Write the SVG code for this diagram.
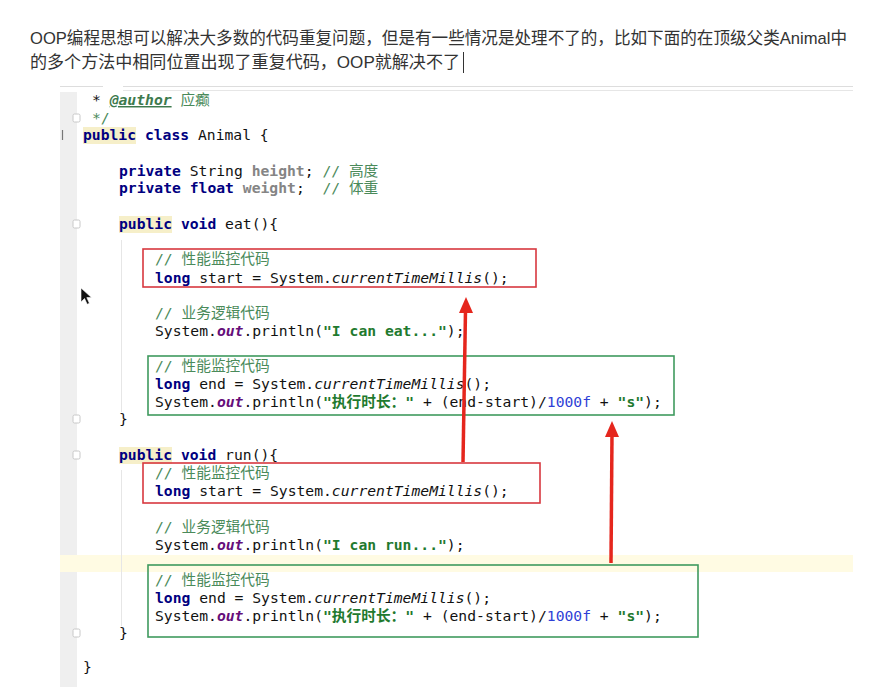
<svg xmlns="http://www.w3.org/2000/svg" width="885" height="687" viewBox="0 0 885 687">
<style>
.intro{font-family:"Liberation Sans","Noto Sans CJK SC",sans-serif;font-size:17px;fill:#333}
.code{font-family:"DejaVu Sans Mono","Noto Sans CJK SC",monospace;font-size:14.7px;fill:#111;white-space:pre}
.kw{fill:#000080;font-weight:bold}
.fld{fill:#858585;font-weight:bold}
.cm{fill:#4a8a5a}
.str{fill:#1f7a2f;font-weight:bold}
.num{fill:#2f3fd6}
.out{fill:#660e7a;font-weight:bold;font-style:italic}
.it{font-style:italic}
.tag{fill:#3d7a4d;font-weight:bold;font-style:italic;text-decoration:underline}
.hl{fill:#f6efc9}
.redbox{fill:none;stroke:#d8383f;stroke-width:1.6}
.greenbox{fill:none;stroke:#3f9a5e;stroke-width:1.6}
.arrow{stroke:#e5261d;stroke-width:3.5;fill:none}
.head{fill:#e5261d}
.fold{fill:#fff;stroke:#c8c8c8;stroke-width:1}
</style>
<rect width="885" height="687" fill="#fff"/>
<g id="intro">
<text class="intro" x="30" y="44" textLength="817" lengthAdjust="spacingAndGlyphs">OOP编程思想可以解决大多数的代码重复问题，但是有一些情况是处理不了的，比如下面的在顶级父类Animal中</text>
<text class="intro" x="30" y="68" textLength="430" lengthAdjust="spacingAndGlyphs">的多个方法中相同位置出现了重复代码，OOP就解决不了</text>
<line x1="463.5" y1="52" x2="463.5" y2="73" stroke="#333" stroke-width="1"/>
</g>
<g id="editor">
<line x1="60" y1="86.5" x2="103" y2="86.5" stroke="#ddd" stroke-width="1"/>
<line x1="123" y1="86.5" x2="853" y2="86.5" stroke="#ddd" stroke-width="1"/>
<line x1="123" y1="90.5" x2="853" y2="90.5" stroke="#e6e6e6" stroke-width="1"/>
<rect x="60" y="92" width="17" height="595" fill="#efefef"/>
<rect x="60" y="555" width="793" height="17" fill="#fffbe3"/>
<line x1="121.5" y1="240" x2="121.5" y2="412" stroke="#e6e6e6" stroke-width="1"/>
<line x1="121.5" y1="470" x2="121.5" y2="626" stroke="#e6e6e6" stroke-width="1"/>
<line x1="62.5" y1="130" x2="62.5" y2="140" stroke="#777" stroke-width="1.2"/>
<rect class="fold" x="73" y="114" width="7" height="8" rx="1.5"/>
<rect class="fold" x="73" y="220" width="7" height="8" rx="1.5"/>
<rect class="fold" x="73" y="415" width="7" height="8" rx="1.5"/>
<rect class="fold" x="73" y="451" width="7" height="8" rx="1.5"/>
<rect class="fold" x="73" y="629" width="7" height="8" rx="1.5"/>
<rect class="hl" x="83" y="127" width="53" height="17"/>
<rect class="hl" x="119" y="216" width="53" height="17"/>
<rect class="hl" x="119" y="447" width="53" height="17"/>
</g>
<g id="code" class="code">
<text x="92" y="105">* <tspan class="tag">@author</tspan><tspan class="cm"> 应癫</tspan></text>
<text x="92" y="123" class="cm">*/</text>
<text x="83" y="140"><tspan class="kw">public class</tspan> Animal {</text>
<text x="119" y="176"><tspan class="kw">private</tspan> String <tspan class="fld">height</tspan>; <tspan class="cm">// 高度</tspan></text>
<text x="119" y="193"><tspan class="kw">private float</tspan> <tspan class="fld">weight</tspan>;&#160;&#160;<tspan class="cm">// 体重</tspan></text>
<text x="119" y="229"><tspan class="kw">public void</tspan> eat(){</text>
<text x="155" y="264" class="cm">// 性能监控代码</text>
<text x="155" y="283"><tspan class="kw">long</tspan> start = System.<tspan class="it">currentTimeMillis</tspan>();</text>
<text x="155" y="318" class="cm">// 业务逻辑代码</text>
<text x="155" y="336">System.<tspan class="out">out</tspan>.println(<tspan class="str">"I can eat..."</tspan>);</text>
<text x="155" y="371" class="cm">// 性能监控代码</text>
<text x="155" y="389"><tspan class="kw">long</tspan> end = System.<tspan class="it">currentTimeMillis</tspan>();</text>
<text x="155" y="407">System.<tspan class="out">out</tspan>.println(<tspan class="str">"执行时长："</tspan> + (end-start)/<tspan class="num">1000f</tspan> + <tspan class="str">"s"</tspan>);</text>
<text x="119" y="424">}</text>
<text x="119" y="460"><tspan class="kw">public void</tspan> run(){</text>
<text x="155" y="478" class="cm">// 性能监控代码</text>
<text x="155" y="496"><tspan class="kw">long</tspan> start = System.<tspan class="it">currentTimeMillis</tspan>();</text>
<text x="155" y="532" class="cm">// 业务逻辑代码</text>
<text x="155" y="550">System.<tspan class="out">out</tspan>.println(<tspan class="str">"I can run..."</tspan>);</text>
<text x="155" y="585" class="cm">// 性能监控代码</text>
<text x="155" y="603"><tspan class="kw">long</tspan> end = System.<tspan class="it">currentTimeMillis</tspan>();</text>
<text x="155" y="621">System.<tspan class="out">out</tspan>.println(<tspan class="str">"执行时长："</tspan> + (end-start)/<tspan class="num">1000f</tspan> + <tspan class="str">"s"</tspan>);</text>
<text x="119" y="638">}</text>
<text x="83" y="672">}</text>
</g>
<g id="box-eat-start"><rect class="redbox" x="143" y="249" width="393" height="38"/></g>
<g id="box-eat-end"><rect class="greenbox" x="148" y="356" width="526" height="59"/></g>
<g id="box-run-start"><rect class="redbox" x="143" y="463" width="397" height="40"/></g>
<g id="box-run-end"><rect class="greenbox" x="148" y="565" width="550" height="72"/></g>
<g id="connectors">
<line class="arrow" x1="463" y1="462" x2="465.5" y2="310"/>
<polygon class="head" points="466,297 459,313 473,313"/>
<line class="arrow" x1="611" y1="563" x2="612" y2="434"/>
<polygon class="head" points="612,421 605,437 619,437"/>
</g>
<g id="pointer">
<path d="M81,288 L81,302 L84.5,298.5 L87.2,304.3 L89.4,303.3 L86.8,297.6 L91.5,297.6 Z" fill="#111" stroke="#fff" stroke-width="0.6"/>
</g>
</svg>
